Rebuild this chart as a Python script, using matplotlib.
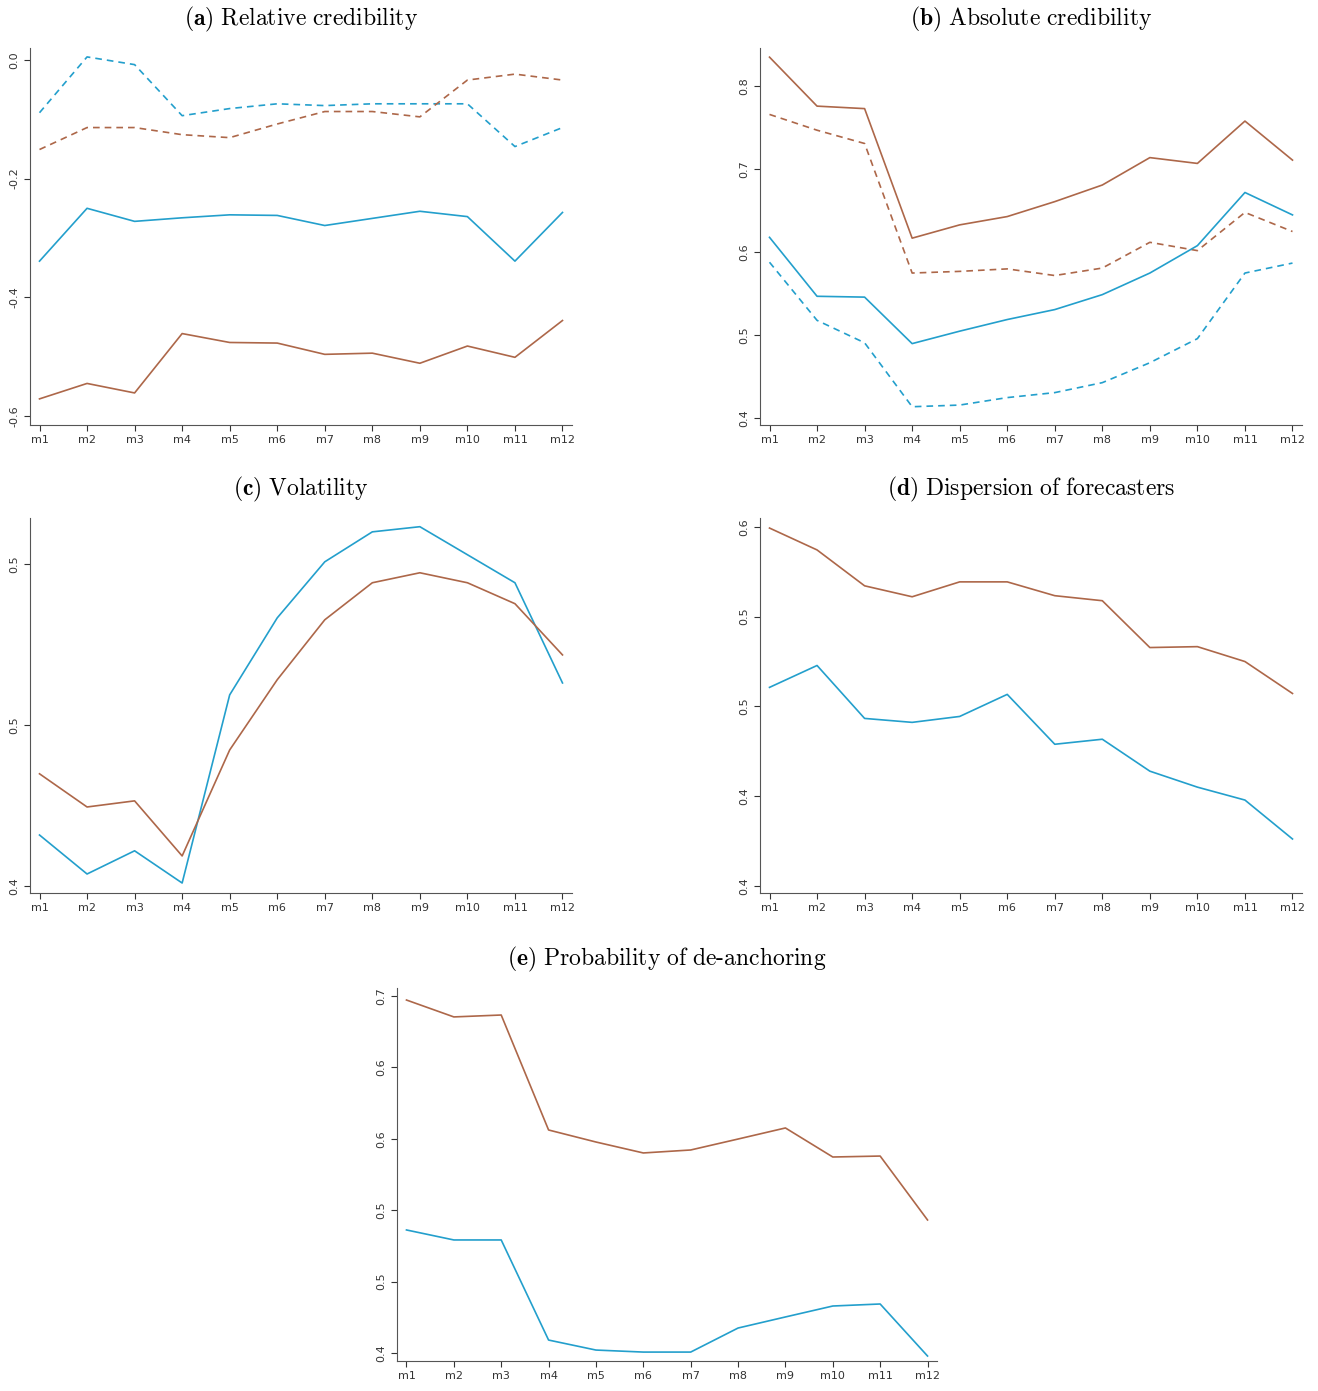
import matplotlib
matplotlib.use("Agg")
import matplotlib.pyplot as plt

months = [f"m{i}" for i in range(1, 13)]
BLUE = "#239fcc"
BROWN = "#ad6749"

a_blue_dash = [-.089, .005, -.008, -.094, -.082, -.074, -.077, -.074, -.074, -.074, -.146, -.114]
a_brown_dash = [-.151, -.114, -.114, -.126, -.131, -.108, -.087, -.087, -.096, -.034, -.024, -.034]
a_blue = [-.339, -.250, -.272, -.266, -.261, -.262, -.279, -.267, -.255, -.264, -.339, -.257]
a_brown = [-.571, -.545, -.561, -.461, -.476, -.477, -.496, -.494, -.511, -.482, -.501, -.439]

b_brown = [.835, .776, .773, .617, .633, .643, .661, .681, .714, .707, .758, .711]
b_brown_dash = [.766, .747, .731, .575, .577, .580, .572, .581, .612, .602, .648, .625]
b_blue = [.618, .547, .546, .490, .505, .519, .531, .549, .575, .608, .672, .645]
b_blue_dash = [.588, .518, .491, .414, .416, .425, .431, .443, .467, .496, .575, .587]

c_blue = [.4158, .4037, .4109, .4009, .4593, .4832, .5006, .5099, .5115, .5028, .4941, .4630]
c_brown = [.4348, .4245, .4264, .4093, .4422, .4640, .4826, .4941, .4972, .4941, .4876, .4717]

d_brown = [.5994, .5872, .5672, .5611, .5694, .5694, .5617, .5589, .5328, .5333, .5250, .5072]
d_blue = [.5106, .5228, .4933, .4911, .4944, .5067, .4789, .4817, .4639, .4550, .4478, .4261]

e_brown = [.6966, .6824, .6840, .5874, .5773, .5681, .5706, .5798, .5891, .5647, .5655, .5118]
e_blue = [.5034, .4950, .4950, .4109, .4025, .4008, .4008, .4210, .4303, .4395, .4412, .3975]

plt.rcParams['mathtext.fontset'] = 'cm'
W, H = 1318, 1391
fig = plt.figure(figsize=(W/100, H/100), dpi=100)

def mkax(l, r, t, b):
    return fig.add_axes([l/W, 1-b/H, (r-l)/W, (b-t)/H])

def style(ax, title, yt, ylab, ylim):
    x = range(12)
    ax.set_xticks(list(x))
    ax.set_xticklabels(months, fontsize=8)
    ax.set_xlim(-0.2, 11.2)
    ax.set_yticks(yt)
    ax.set_yticklabels(ylab, rotation=90, va='center', fontsize=8)
    ax.set_ylim(*ylim)
    for s in ['top', 'right']:
        ax.spines[s].set_visible(False)
    for s in ['left', 'bottom']:
        ax.spines[s].set_color('#555555')
    ax.tick_params(colors='#333333', length=4)
    ax.set_title(title, fontsize=17, pad=16)

x = list(range(12))
lw = 1.2
ax = mkax(30, 572, 48, 425)
ax.plot(x, a_blue_dash, color=BLUE, ls=(0, (4, 3)), lw=lw)
ax.plot(x, a_brown_dash, color=BROWN, ls=(0, (4, 3)), lw=lw)
ax.plot(x, a_blue, color=BLUE, lw=lw)
ax.plot(x, a_brown, color=BROWN, lw=lw)
style(ax, r"$\mathbf{(a)}\ \mathrm{Relative\ credibility}$", [0, -.2, -.4, -.6], ["0.0", "-0.2", "-0.4", "-0.6"], (-.615, .02))

ax = mkax(760, 1302, 48, 425)
ax.plot(x, b_brown, color=BROWN, lw=lw)
ax.plot(x, b_brown_dash, color=BROWN, ls=(0, (4, 3)), lw=lw)
ax.plot(x, b_blue, color=BLUE, lw=lw)
ax.plot(x, b_blue_dash, color=BLUE, ls=(0, (4, 3)), lw=lw)
style(ax, r"$\mathbf{(b)}\ \mathrm{Absolute\ credibility}$", [.4, .5, .6, .7, .8], ["0.4", "0.5", "0.6", "0.7", "0.8"], (.392, .846))

ax = mkax(30, 572, 518, 893)
ax.plot(x, c_blue, color=BLUE, lw=lw)
ax.plot(x, c_brown, color=BROWN, lw=lw)
style(ax, r"$\mathbf{(c)}\ \mathrm{Volatility}$", [.4, .45, .5], ["0.4", "0.5", "0.5"], (.3978, .5142))

ax = mkax(760, 1302, 518, 893)
ax.plot(x, d_brown, color=BROWN, lw=lw)
ax.plot(x, d_blue, color=BLUE, lw=lw)
style(ax, r"$\mathbf{(d)}\ \mathrm{Dispersion\ of\ forecasters}$", [.4, .45, .5, .55, .6], ["0.4", "0.4", "0.5", "0.5", "0.6"], (.396, .605))

ax = mkax(397, 937, 988, 1361)
ax.plot(x, e_brown, color=BROWN, lw=lw)
ax.plot(x, e_blue, color=BLUE, lw=lw)
style(ax, r"$\mathbf{(e)}\ \mathrm{Probability\ of\ de\text{-}anchoring}$", [.4, .46, .52, .58, .64, .70], ["0.4", "0.5", "0.5", "0.6", "0.6", "0.7"], (.3933, .7067))

fig.savefig("out.png", dpi=100)
